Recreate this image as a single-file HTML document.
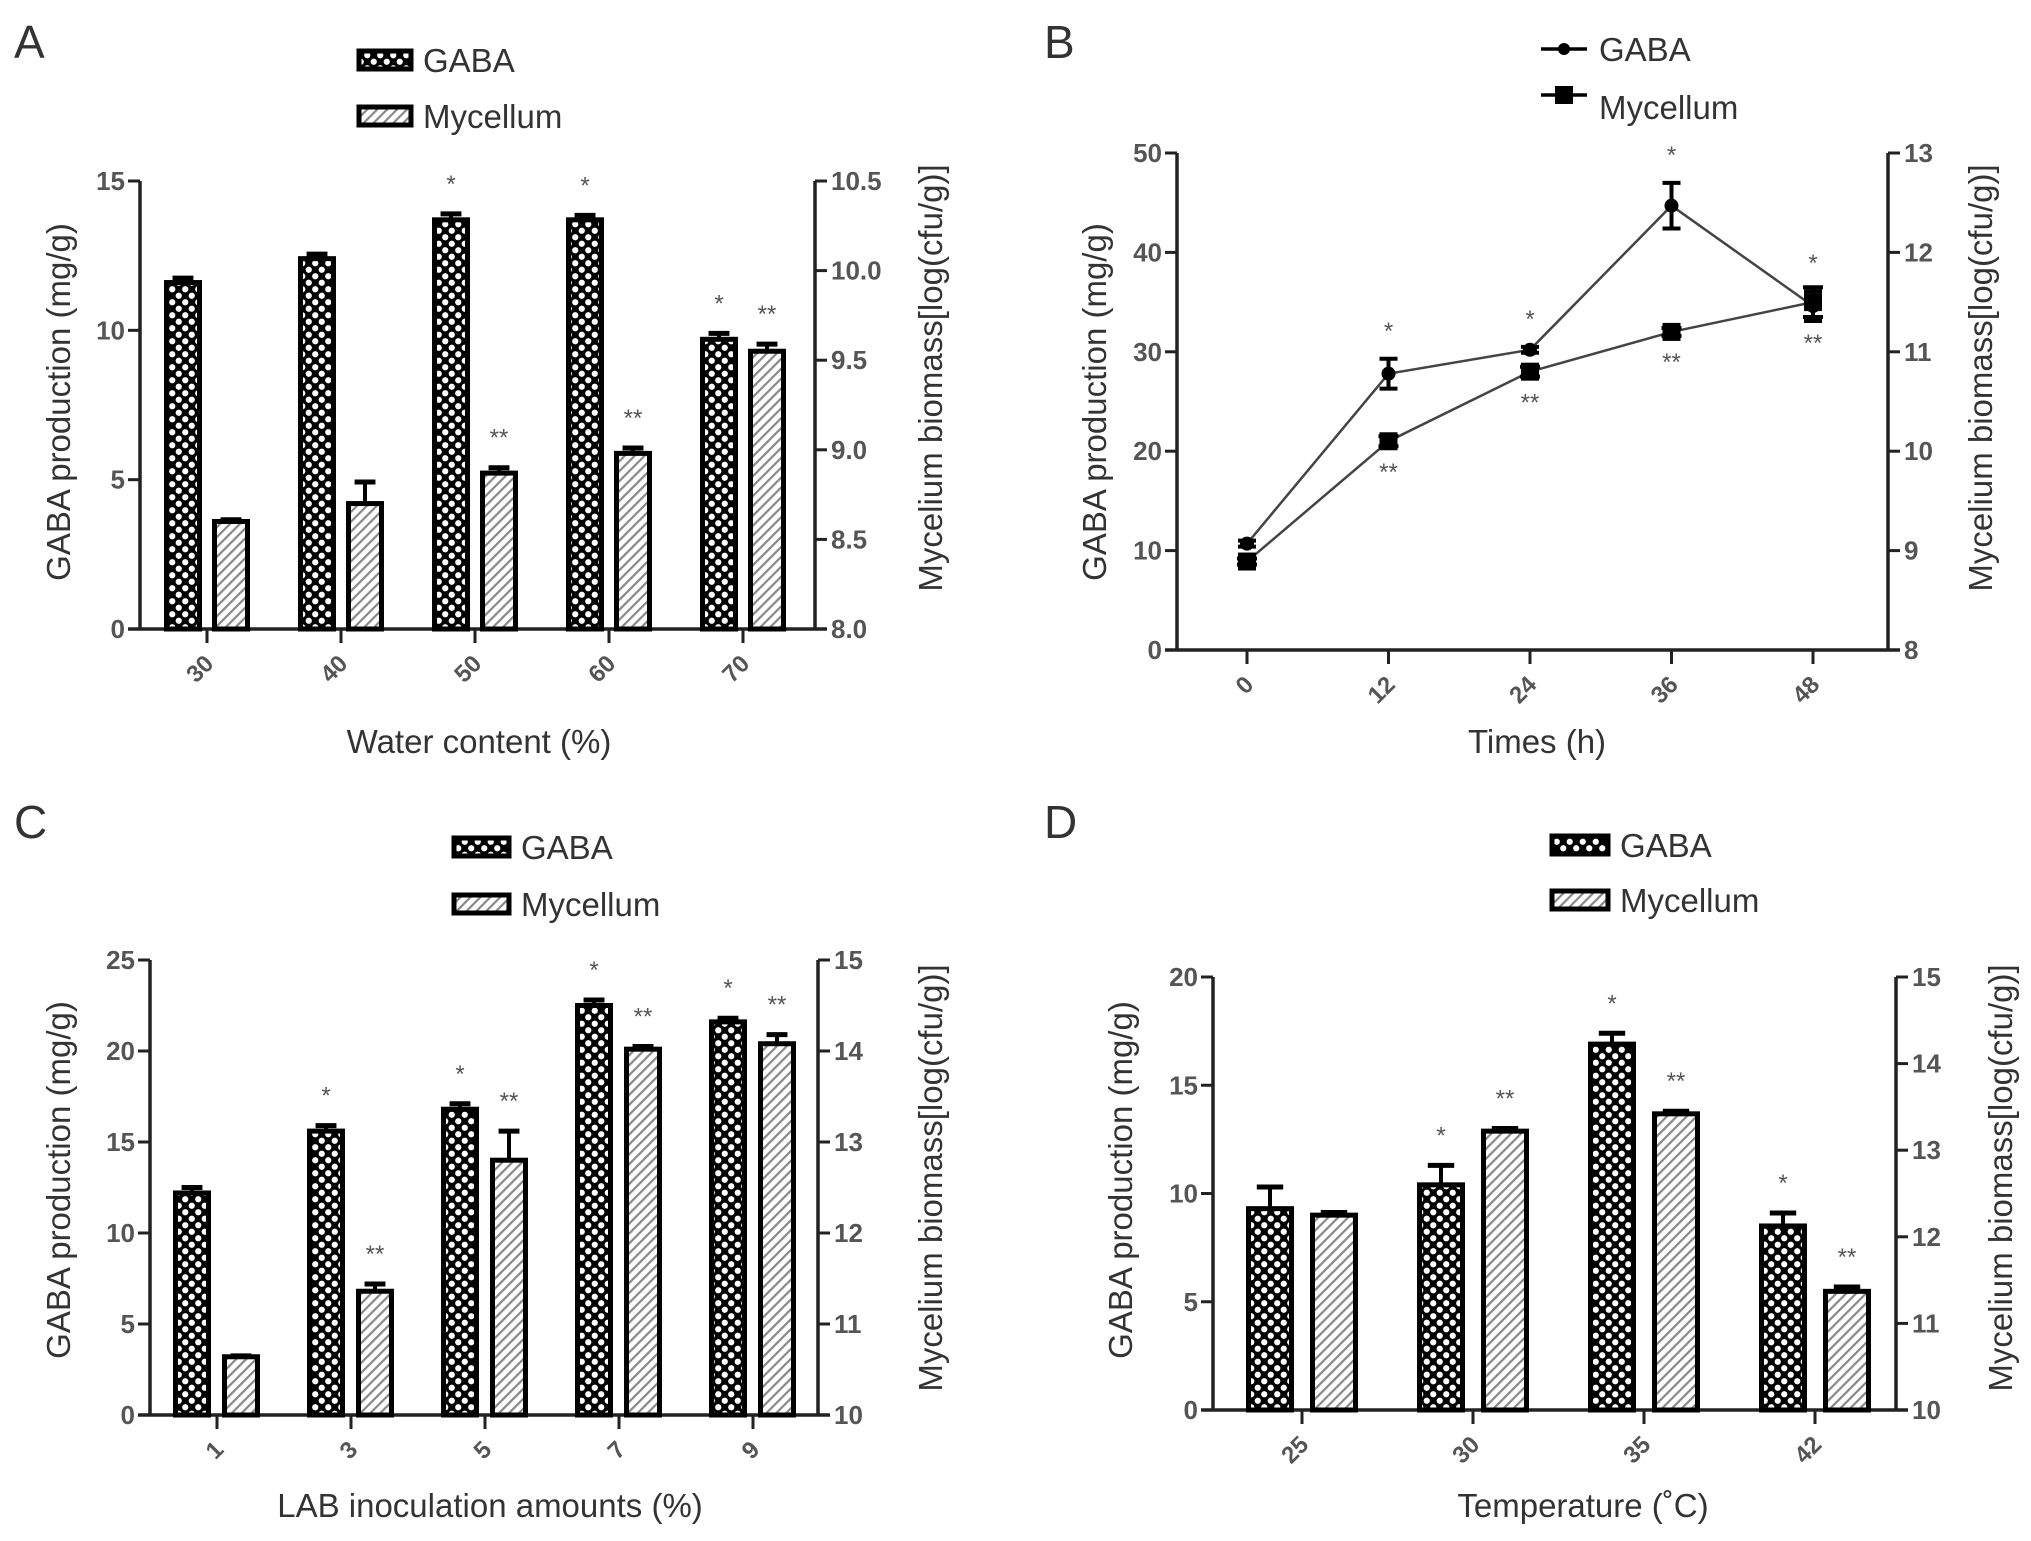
<!DOCTYPE html>
<html><head><meta charset="utf-8"><style>
html,body{margin:0;padding:0;background:#fff;}
svg{display:block;font-family:"Liberation Sans",Arial,sans-serif;}
</style></head><body>
<svg id="fig" width="2031" height="1541" viewBox="0 0 2031 1541" xmlns="http://www.w3.org/2000/svg">
<defs>
<pattern id="chk" patternUnits="userSpaceOnUse" width="13" height="13">
<rect width="13" height="13" fill="#000"/>
<circle cx="3.25" cy="3.25" r="3.1" fill="#fff"/>
<circle cx="9.75" cy="9.75" r="3.1" fill="#fff"/>
</pattern>
<pattern id="hatch" patternUnits="userSpaceOnUse" width="7" height="7" patternTransform="rotate(45)">
<rect width="7" height="7" fill="#fff"/>
<rect x="0" y="0" width="2.2" height="7" fill="#888"/>
</pattern>
</defs>
</svg>
<script>
// Panel A data
const aCats=["30","40","50","60","70"];
const aGaba=[11.6,12.4,13.7,13.7,9.7];
const aGabaErr=[0.15,0.15,0.2,0.15,0.2];
const aMyc=[8.6,8.7,8.87,8.98,9.55];
const aMycErr=[0.01,0.12,0.03,0.03,0.04];
const aGabaStars=["","","*","*","*"];
const aMycStars=["","","**","**","**"];
const aLeftTicks=[0,5,10,15];
const aRightTicks=[8.0,8.5,9.0,9.5,10.0,10.5];
// Panel B data
const bTimes=[0,12,24,36,48];
const bGaba=[10.7,27.8,30.2,44.7,34.6];
const bGabaErr=[0.3,1.5,0.3,2.3,1.5];
const bMyc=[8.89,10.1,10.8,11.2,11.5];
const bMycErr=[0.03,0.05,0.05,0.04,0.15];
const bLeftTicks=[0,10,20,30,40,50];
const bRightTicks=[8,9,10,11,12,13];
// Panel C data
const cCats=["1","3","5","7","9"];
const cGaba=[12.2,15.6,16.8,22.5,21.6];
const cGabaErr=[0.3,0.3,0.3,0.3,0.2];
const cMyc=[10.64,11.36,12.8,14.02,14.08];
const cMycErr=[0.01,0.08,0.32,0.03,0.1];
const cGabaStars=["","*","*","*","*"];
const cMycStars=["","**","**","**","**"];
const cLeftTicks=[0,5,10,15,20,25];
const cRightTicks=[10,11,12,13,14,15];
// Panel D data
const dCats=["25","30","35","42"];
const dGaba=[9.3,10.4,16.9,8.5];
const dGabaErr=[1.0,0.9,0.5,0.6];
const dMyc=[12.25,13.22,13.42,11.37];
const dMycErr=[0.03,0.03,0.03,0.05];
const dGabaStars=["","*","*","*"];
const dMycStars=["","**","**","**"];
const dLeftTicks=[0,5,10,15,20];
const dRightTicks=[10,11,12,13,14,15];

const svg=document.getElementById('fig');
const NS="http://www.w3.org/2000/svg";
function mk(tag,attrs,parent){const e=document.createElementNS(NS,tag);for(const k in attrs)e.setAttribute(k,attrs[k]);(parent||svg).appendChild(e);return e;}
function txt(s,attrs,parent){const e=mk('text',attrs,parent);e.textContent=s;return e;}

function axes(g,cfg){
  const {x0,x1,yTop,yBot,lmin,lmax,rmin,rmax,lt,rt,rdec}=cfg;
  const ly=v=>yBot-(v-lmin)/(lmax-lmin)*(yBot-yTop);
  const ry=v=>yBot-(v-rmin)/(rmax-rmin)*(yBot-yTop);
  const la=mk('line',{x1:x0,y1:yTop,x2:x0,y2:yBot,stroke:'#222','stroke-width':3.5},g);
  
  
  const ra=mk('line',{x1:x1,y1:yTop,x2:x1,y2:yBot,stroke:'#222','stroke-width':3.5},g);
  
  
  const xa=mk('line',{x1:x0-12,y1:yBot,x2:x1+12,y2:yBot,stroke:'#222','stroke-width':3.5},g);
  
  
  lt.forEach(v=>{
    mk('line',{x1:x0-12,y1:ly(v),x2:x0,y2:ly(v),stroke:'#222','stroke-width':3},g);
    const t=txt(String(v),{x:x0-15,y:ly(v)+9,'text-anchor':'end','font-size':26,'font-weight':'bold',fill:'#555'},g);
    
    
  });
  rt.forEach(v=>{
    mk('line',{x1:x1,y1:ry(v),x2:x1+12,y2:ry(v),stroke:'#222','stroke-width':3},g);
    const t=txt(v.toFixed(rdec),{x:x1+16,y:ry(v)+9,'font-size':26,'font-weight':'bold',fill:'#555'},g);
    
    
  });
  return {ly,ry};
}
function xtick(g,x,yBot,label){
  mk('line',{x1:x,y1:yBot,x2:x,y2:yBot+14,stroke:'#222','stroke-width':3},g);
  const t=txt(label,{x:x+8,y:yBot+36,'text-anchor':'end','font-size':24,'font-weight':'bold',fill:'#555',transform:`rotate(-45 ${x+8} ${yBot+36})`},g);
  
  
}
function bar(g,cx,w,yv,yBot,fill,name){
  const r=mk('rect',{x:cx-w/2+2.5,y:yv,width:w-5,height:yBot-yv,fill:fill,stroke:'#000','stroke-width':5},g);
  
  
}
function errUp(g,cx,yv,ye,w){
  mk('line',{x1:cx,y1:yv,x2:cx,y2:ye,stroke:'#000','stroke-width':4},g);
  mk('line',{x1:cx-w/2,y1:ye,x2:cx+w/2,y2:ye,stroke:'#000','stroke-width':5},g);
}
function star(g,x,y,s){
  const t=txt(s,{x:x,y:y,'text-anchor':'middle','font-size':24,fill:'#555'},g);
  
  
}
function titles(g,c){
  const l=txt(c.letter,{x:c.lx,y:c.ly,'font-size':46,fill:'#333'},g);
  
  
  const xt=txt(c.xt,{x:c.xtx,y:c.xty,'text-anchor':'middle','font-size':33,fill:'#333'},g);
  
  
  const yl=txt('GABA production (mg/g)',{x:c.ylx,y:c.yc,'text-anchor':'middle','font-size':33,fill:'#333',transform:`rotate(-90 ${c.ylx} ${c.yc})`},g);
  
  
  const yr=txt('Mycelium biomass[log(cfu/g)]',{x:c.yrx,y:c.yrc,'text-anchor':'middle','font-size':33,fill:'#333',transform:`rotate(-90 ${c.yrx} ${c.yrc})`},g);
  
  
}
function barLegend(g,bx,bw,y1,y2){
  [[y1,'url(#chk)','GABA'],[y2,'url(#hatch)','Mycellum']].forEach(([y,f,s])=>{
    const r=mk('rect',{x:bx,y:y-9,width:bw,height:18,fill:f,stroke:'#000','stroke-width':5},g);
    
    
    const t=txt(s,{x:bx+bw+12,y:y+12,'font-size':33,fill:'#333'},g);
    
    
  });
}
function barPanel(name,cfg,cats,gaba,gErr,myc,mErr,gS,mS){
  const g=mk('g',{});
  
  
  const {ly,ry}=axes(g,cfg);
  cats.forEach((c,i)=>{
    const t=cfg.t0+cfg.step*i;
    xtick(g,t,cfg.yBot,c);
    const gx=t+cfg.go, mx=t+cfg.mo;
    bar(g,gx,cfg.bw,ly(gaba[i]),cfg.yBot,'url(#chk)','gaba-bar-'+c);
    const ge=ly(gaba[i]+gErr[i]);
    errUp(g,gx,ly(gaba[i]),ge,cfg.bw*0.55);
    bar(g,mx,cfg.bw,ry(myc[i]),cfg.yBot,'url(#hatch)','mycelium-bar-'+c);
    const me=ry(myc[i]+mErr[i]);
    errUp(g,mx,ry(myc[i]),me,cfg.bw*0.55);
    if(gS[i])star(g,gx,ge-22,gS[i]);
    if(mS[i])star(g,mx,me-22,mS[i]);
  });
  titles(g,cfg);
  barLegend(g,cfg.legx,cfg.legw,cfg.leg1,cfg.leg2);
}

barPanel('panel-a',{x0:140,x1:815,yTop:181,yBot:629,lmin:0,lmax:15,rmin:8,rmax:10.5,lt:aLeftTicks,rt:aRightTicks,rdec:1,
 t0:207,step:134,go:-24,mo:24,bw:38,letter:'A',lx:14,ly:58,xt:'Water content (%)',xtx:479,xty:753,ylx:70,yc:402,yrx:942,yrc:378,
 legx:359,legw:52,leg1:60,leg2:116},aCats,aGaba,aGabaErr,aMyc,aMycErr,aGabaStars,aMycStars);

barPanel('panel-c',{x0:150,x1:818,yTop:960,yBot:1415,lmin:0,lmax:25,rmin:10,rmax:15,lt:cLeftTicks,rt:cRightTicks,rdec:0,
 t0:217,step:134,go:-25,mo:24,bw:38,letter:'C',lx:14,ly:838,xt:'LAB inoculation amounts (%)',xtx:490,xty:1517,ylx:70,yc:1180,yrx:942,yrc:1178,
 legx:454,legw:55,leg1:847,leg2:904},cCats,cGaba,cGabaErr,cMyc,cMycErr,cGabaStars,cMycStars);

barPanel('panel-d',{x0:1213,x1:1896,yTop:977,yBot:1410,lmin:0,lmax:20,rmin:10,rmax:15,lt:dLeftTicks,rt:dRightTicks,rdec:0,
 t0:1302,step:171,go:-32,mo:32,bw:48,letter:'D',lx:1044,ly:838,xt:'Temperature (˚C)',xtx:1583,xty:1517,ylx:1132,yc:1180,yrx:2012,yrc:1178,
 legx:1552,legw:56,leg1:845,leg2:900},dCats,dGaba,dGabaErr,dMyc,dMycErr,dGabaStars,dMycStars);

// Panel B (line chart)
(function(){
  const g=mk('g',{});
  
  
  const cfg={x0:1177,x1:1888,yTop:153,yBot:650,lmin:0,lmax:50,rmin:8,rmax:13,lt:bLeftTicks,rt:bRightTicks,rdec:0};
  const {ly,ry}=axes(g,cfg);
  const xs=v=>1247+v/12*141.5;
  bTimes.forEach(t=>xtick(g,xs(t),cfg.yBot,String(t)));
  const gp=bTimes.map((t,i)=>xs(t)+','+ly(bGaba[i])).join(' ');
  const mp=bTimes.map((t,i)=>xs(t)+','+ry(bMyc[i])).join(' ');
  const gl=mk('polyline',{points:gp,fill:'none',stroke:'#444','stroke-width':2.5},g);
  
  
  const ml=mk('polyline',{points:mp,fill:'none',stroke:'#444','stroke-width':2.5},g);
  
  
  bTimes.forEach((t,i)=>{
    const x=xs(t);
    const y=ly(bGaba[i]), e1=ly(bGaba[i]+bGabaErr[i]), e2=ly(bGaba[i]-bGabaErr[i]);
    mk('line',{x1:x,y1:e1,x2:x,y2:e2,stroke:'#000','stroke-width':4},g);
    mk('line',{x1:x-9,y1:e1,x2:x+9,y2:e1,stroke:'#000','stroke-width':4},g);
    mk('line',{x1:x-9,y1:e2,x2:x+9,y2:e2,stroke:'#000','stroke-width':4},g);
    const c=mk('circle',{cx:x,cy:y,r:7,fill:'#000'},g);
    
    
    const my=ry(bMyc[i]), m1=ry(bMyc[i]+bMycErr[i]), m2=ry(bMyc[i]-bMycErr[i]);
    mk('line',{x1:x,y1:m1,x2:x,y2:m2,stroke:'#000','stroke-width':4},g);
    mk('line',{x1:x-10,y1:m1,x2:x+10,y2:m1,stroke:'#000','stroke-width':4},g);
    mk('line',{x1:x-10,y1:m2,x2:x+10,y2:m2,stroke:'#000','stroke-width':4},g);
    const s=mk('rect',{x:x-9,y:my-9,width:18,height:18,fill:'#000'},g);
    
    
    if(i>0){ star(g,x,e1-20,'*'); star(g,x,Math.max(m2,my)+34,'**'); }
  });
  titles(g,{letter:'B',lx:1044,ly:58,xt:'Times (h)',xtx:1537,xty:753,ylx:1106,yc:402,yrx:1992,yrc:378});
  // legend
  [[49,'c','GABA'],[95,'s','Mycellum']].forEach(([y,k,s],j)=>{
    mk('line',{x1:1541,y1:y,x2:1587,y2:y,stroke:'#000','stroke-width':3.5},g);
    if(k==='c'){const m=mk('circle',{cx:1564,cy:y,r:6,fill:'#000'},g);}
    else{const m=mk('rect',{x:1555,y:y-9,width:18,height:18,fill:'#000'},g);}
    const t=txt(s,{x:1599,y:j===0?y+12:y+24,'font-size':33,fill:'#333'},g);
    
    
  });
})();
</script>
</body></html>
